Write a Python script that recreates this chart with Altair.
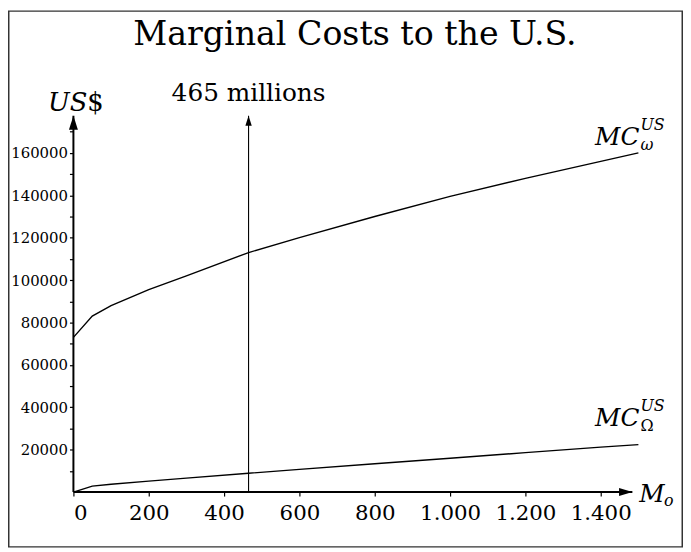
import altair as alt
import pandas as pd

# ---- data ----
title_text = "Marginal Costs to the U.S."
m_values = [0, 50, 100, 200, 300, 465, 600, 800, 1000, 1200, 1400, 1500]
mc_omega = [73000, 83000, 88000, 95500, 102000, 113000, 120000, 130000, 139500, 148000, 156000, 160000]
mc_Omega = [0, 2800, 3700, 5200, 6600, 8900, 10700, 13400, 16000, 18600, 21200, 22400]
x_ticks = [0, 200, 400, 600, 800, 1000, 1200, 1400]
y_ticks = list(range(10000, 170001, 10000))
marker_m = 465
marker_label = "465 millions"
x_axis_end = 1484
y_axis_end = 177500
x_domain = [0, 1500]
y_domain = [0, 180000]

SERIF = "DejaVu Serif"
W, H = 570, 385

rows = []
for m, a, b in zip(m_values, mc_omega, mc_Omega):
    rows.append({"M": m, "C": a, "s": "omega"})
    rows.append({"M": m, "C": b, "s": "Omega"})
curves = pd.DataFrame(rows)

xscale = alt.Scale(domain=x_domain, nice=False, zero=False)
yscale = alt.Scale(domain=y_domain, nice=False, zero=False)
xaxis = alt.Axis(
    values=x_ticks, title=None, domain=False, grid=False,
    tickSize=4, tickColor="black", tickWidth=1.2,
    labelFont=SERIF, labelFontSize=21.5, labelColor="black", labelPadding=7,
    labelExpr="replace(format(datum.value, ','), ',', '.')",
)
yaxis = alt.Axis(
    values=y_ticks, title=None, domain=False, grid=False,
    tickSize=4, tickColor="black", tickWidth=1.2,
    labelFont=SERIF, labelFontSize=15, labelColor="black", labelPadding=2,
    labelExpr="datum.value % 20000 == 0 && datum.value > 0 ? format(datum.value, 'd') : ''",
)

def X(f="M"):
    return alt.X(f, type="quantitative", scale=xscale, axis=xaxis)

def Y(f="C"):
    return alt.Y(f, type="quantitative", scale=yscale, axis=yaxis)

lines = alt.Chart(curves).mark_line(color="black", strokeWidth=1.4).encode(
    x=X(), y=Y(), detail="s:N"
)

# axes lines with arrows
xline = alt.Chart(pd.DataFrame({"M": [0], "M2": [x_axis_end], "C": [0]})).mark_rule(
    color="black", strokeWidth=2
).encode(x=X(), x2=alt.X2("M2"), y=Y())
yline = alt.Chart(pd.DataFrame({"M": [0], "C": [0], "C2": [y_axis_end]})).mark_rule(
    color="black", strokeWidth=2
).encode(x=X(), y=Y(), y2=alt.Y2("C2"))
vline = alt.Chart(pd.DataFrame({"M": [marker_m], "C": [0], "C2": [y_axis_end]})).mark_rule(
    color="black", strokeWidth=1.1
).encode(x=X(), y=Y(), y2=alt.Y2("C2"))

up_arrow = "M0,0L-0.64,2L0.64,2Z"
right_arrow = "M0,0L-2,-0.6L-2,0.6Z"
yhead = alt.Chart(pd.DataFrame({"M": [0], "C": [y_axis_end]})).mark_point(
    shape=up_arrow, filled=True, size=200, color="black", opacity=1, strokeWidth=0
).encode(x=X(), y=Y())
vhead = alt.Chart(pd.DataFrame({"M": [marker_m], "C": [y_axis_end]})).mark_point(
    shape=up_arrow, filled=True, size=100, color="black", opacity=1, strokeWidth=0
).encode(x=X(), y=Y())
xhead = alt.Chart(pd.DataFrame({"M": [x_axis_end], "C": [0]})).mark_point(
    shape=right_arrow, filled=True, size=180, color="black", opacity=1, strokeWidth=0
).encode(x=X(), y=Y())

# texts
def txt(df, **kw):
    return alt.Chart(df).mark_text(font=SERIF, color="black", **kw)

title = txt(pd.DataFrame({"t": [title_text]}), fontSize=33.5, baseline="alphabetic", align="center").encode(
    text="t", x=alt.value(W / 2 - 1), y=alt.value(-66)
)
marker_txt = txt(pd.DataFrame({"M": [marker_m], "C": [y_axis_end], "t": [marker_label]}),
                 fontSize=25, baseline="alphabetic", align="center", dy=-15).encode(
    text="t", x=X(), y=Y()
)
us_txt = txt(pd.DataFrame({"M": [0], "C": [y_axis_end], "t": ["US"]}),
             fontSize=26, fontStyle="italic", baseline="alphabetic", align="right", dx=14, dy=-5).encode(
    text="t", x=X(), y=Y()
)
dollar_txt = txt(pd.DataFrame({"M": [0], "C": [y_axis_end], "t": ["$"]}),
                 fontSize=26, baseline="alphabetic", align="left", dx=14, dy=-5).encode(
    text="t", x=X(), y=Y()
)
mo_txt = txt(pd.DataFrame({"M": [x_axis_end], "C": [0], "t": ["M"]}),
             fontSize=25, fontStyle="italic", baseline="alphabetic", align="left", dx=7, dy=10).encode(
    text="t", x=X(), y=Y()
)
mo_sub = txt(pd.DataFrame({"M": [x_axis_end], "C": [0], "t": ["o"]}),
             fontSize=16, fontStyle="italic", baseline="alphabetic", align="left", dx=32, dy=14).encode(
    text="t", x=X(), y=Y()
)

end_m = m_values[-1]
def mc_label(cval, sub, sub_style, dy_main):
    d = pd.DataFrame({"M": [end_m], "C": [cval]})
    main = txt(d.assign(t="MC"), fontSize=25, fontStyle="italic", baseline="alphabetic",
               align="right", dx=1, dy=dy_main).encode(text="t", x=X(), y=Y())
    sup = txt(d.assign(t="US"), fontSize=16, fontStyle="italic", baseline="alphabetic",
              align="left", dx=2, dy=dy_main - 15).encode(text="t", x=X(), y=Y())
    sb = txt(d.assign(t=sub), fontSize=16, fontStyle=sub_style, baseline="alphabetic",
             align="left", dx=2, dy=dy_main + 5).encode(text="t", x=X(), y=Y())
    return main + sup + sb

lab_omega = mc_label(mc_omega[-1], "ω", "italic", -8)
lab_Omega = mc_label(mc_Omega[-1], "Ω", "normal", -19)

frame = alt.Chart(pd.DataFrame({"a": [0]})).mark_rect(
    fill="transparent", stroke="#333", strokeWidth=1.5
).encode(
    x=alt.value(-65.25), x2=alt.value(W + 45 - 0.75),
    y=alt.value(-100.25), y2=alt.value(H + 56 - 0.75),
)

chart = alt.layer(
    frame, lines, xline, yline, vline, yhead, vhead, xhead,
    title, marker_txt, us_txt, dollar_txt, mo_txt, mo_sub, lab_omega, lab_Omega,
).properties(
    width=W, height=H,
    autosize=alt.AutoSizeParams(type="none"),
    padding={"left": 66, "top": 101, "right": 45, "bottom": 56},
    view=alt.ViewBackground(strokeOpacity=0, strokeWidth=0, stroke="transparent"),
).configure_view(strokeWidth=0, strokeOpacity=0, stroke="transparent").configure(background="white")

chart.save("out.html", embed_options={"renderer": "svg", "actions": False})
